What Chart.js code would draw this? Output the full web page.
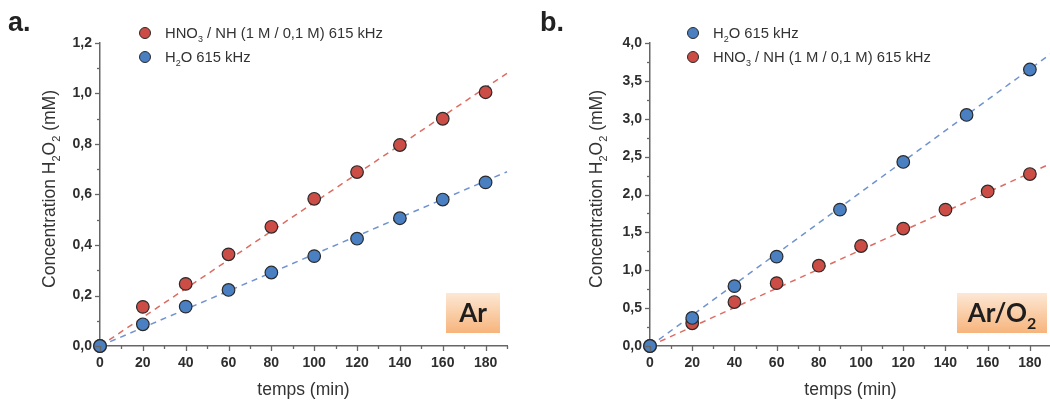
<!DOCTYPE html>
<html>
<head>
<meta charset="utf-8">
<script src="https://cdn.jsdelivr.net/npm/chart.js@4.4.1/dist/chart.umd.min.js"></script>
<style>
  html, body { margin: 0; padding: 0; background: #fff; }
  #wrap { position: relative; width: 1050px; height: 402px; overflow: hidden; }
  .panel { position: absolute; top: 0; height: 402px; }
  #pa { left: 0; width: 525px; }
  #pb { left: 525px; width: 540px; }
</style>
</head>
<body>
<div id="wrap">
  <div class="panel" id="pa"><canvas id="chartA"></canvas></div>
  <div class="panel" id="pb"><canvas id="chartB"></canvas></div>
</div>
<script>
// data - panel a (Ar)
const tempsA = [0, 20, 40, 60, 80, 100, 120, 140, 160, 180];
const hno3A = [0, 0.155, 0.246, 0.363, 0.472, 0.583, 0.689, 0.796, 0.90, 1.005];
const h2oA  = [0, 0.086, 0.156, 0.222, 0.291, 0.356, 0.425, 0.506, 0.58, 0.648];
const fitX = [0, 190];
const fitHno3A = [0, 1.08];
const fitH2oA  = [0, 0.69];

// data - panel b (Ar/O2)
const tempsB_h2o = [0, 20, 40, 60, 90, 120, 150, 180];
const h2oB = [0, 0.37, 0.79, 1.18, 1.80, 2.43, 3.05, 3.65];
const tempsB_hno3 = [0, 20, 40, 60, 80, 100, 120, 140, 160, 180];
const hno3B = [0, 0.30, 0.58, 0.83, 1.06, 1.32, 1.55, 1.80, 2.04, 2.27];
const fitH2oB  = [0, 3.86];
const fitHno3B = [0, 2.41];

// tick labels
const xTickLabels = [0, 20, 40, 60, 80, 100, 120, 140, 160, 180];

const RED = '#cc4d45', BLUE = '#4a7fc1';
const RED_LINE = '#dd6c62', BLUE_LINE = '#7093cf';
const SANS = '"Liberation Sans", Arial, sans-serif';

const pts = (xs, ys) => xs.map((x, i) => ({ x: x, y: ys[i] }));

function pointSet(label, xs, ys, color) {
  return {
    label, data: pts(xs, ys), showLine: false,
    backgroundColor: color, borderColor: '#2a2a2a', borderWidth: 1.2,
    pointRadius: 6.3, pointHoverRadius: 6.3, clip: false, order: 1
  };
}
function fitSet(ys, color) {
  return {
    label: 'fit', data: pts(fitX, ys), showLine: true, pointRadius: 0,
    borderColor: color, borderWidth: 1.5, borderDash: [6, 5], clip: false, order: 5
  };
}

// text with subscripts: segs = [[text, isSub], ...]
function drawSegs(ctx, segs, x, y, size, opts) {
  opts = opts || {};
  const fam = opts.family || SANS;
  const wt = opts.bold ? 'bold ' : '';
  const big = wt + size + 'px ' + fam;
  const small = wt + Math.round(size * 0.62) + 'px ' + fam;
  let w = 0;
  segs.forEach(s => { ctx.font = s[1] ? small : big; w += ctx.measureText(s[0]).width; });
  let cx = opts.center ? x - w / 2 : x;
  ctx.textAlign = 'left';
  ctx.textBaseline = 'alphabetic';
  ctx.fillStyle = opts.color || '#333';
  segs.forEach(s => {
    ctx.font = s[1] ? small : big;
    ctx.fillText(s[0], cx, s[1] ? y + size * 0.28 : y);
    cx += ctx.measureText(s[0]).width;
  });
}

const hno3Label = [['HNO', 0], ['3', 1], [' / NH (1 M / 0,1 M) 615 kHz', 0]];
const h2oLabel = [['H', 0], ['2', 1], ['O 615 kHz', 0]];
const yTitle = [['Concentration H', 0], ['2', 1], ['O', 0], ['2', 1], [' (mM)', 0]];

function makeChart(id, p) {
  const decor = {
    id: 'decor',
    afterDraw(chart) {
      const ctx = chart.ctx, area = chart.chartArea;
      const xs = chart.scales.x, ys = chart.scales.y;
      ctx.save();
      // ticks, major and minor, outward
      ctx.strokeStyle = '#666';
      ctx.lineWidth = 1.3;
      for (let v = 0; v <= p.xMax + 1e-9; v += 10) {
        const px = Math.round(xs.getPixelForValue(v)) + 0.5;
        const len = (v % 20 === 0) ? 5 : 3;
        ctx.beginPath(); ctx.moveTo(px, area.bottom); ctx.lineTo(px, area.bottom + len); ctx.stroke();
      }
      for (let k = 0; k * p.yMinor <= p.yMax + 1e-9; k++) {
        const v = k * p.yMinor;
        const py = Math.round(ys.getPixelForValue(v)) + 0.5;
        const len = (k % 2 === 0) ? 5 : 3;
        ctx.beginPath(); ctx.moveTo(area.left, py); ctx.lineTo(area.left - len, py); ctx.stroke();
      }
      // panel letter
      ctx.fillStyle = '#222';
      ctx.font = 'bold 27px ' + SANS;
      ctx.textAlign = 'left'; ctx.textBaseline = 'alphabetic';
      ctx.fillText(p.letter, p.letterX, 31);
      // legend
      p.legend.forEach((it, i) => {
        const ly = 33 + i * 24;
        ctx.beginPath();
        ctx.arc(p.legX, ly, 5.5, 0, Math.PI * 2);
        ctx.fillStyle = it.color; ctx.fill();
        ctx.lineWidth = 1; ctx.strokeStyle = '#2a2a2a'; ctx.stroke();
        drawSegs(ctx, it.segs, p.legX + 20, ly + 5, 14.8);
      });
      // y title
      ctx.save();
      ctx.translate(p.yTitleX, 189);
      ctx.rotate(-Math.PI / 2);
      drawSegs(ctx, yTitle, 0, 0, 17.5, { center: true });
      ctx.restore();
      // x title
      drawSegs(ctx, [['temps (min)', 0]], (area.left + area.right) / 2, 395, 17.5, { center: true });
      // gas box
      const b = p.box;
      const g = ctx.createLinearGradient(0, b.y, 0, b.y + b.h);
      g.addColorStop(0, '#fde8d4');
      g.addColorStop(1, '#f7b47c');
      ctx.fillStyle = g;
      ctx.fillRect(b.x, b.y, b.w, b.h);
      drawSegs(ctx, p.boxText, b.x + b.w / 2, b.y + b.h / 2 + 9, 26,
        { center: true, bold: true, family: 'Lato, ' + SANS, color: '#1e1e1e' });
      ctx.restore();
    }
  };

  return new Chart(document.getElementById(id), {
    type: 'scatter',
    data: { datasets: p.datasets },
    options: {
      responsive: true,
      maintainAspectRatio: false,
      animation: false,
      layout: { padding: { left: 0, right: p.padRight, top: 43, bottom: 0 } },
      plugins: { legend: { display: false }, tooltip: { enabled: false } },
      scales: {
        x: {
          type: 'linear', min: 0, max: p.xMax,
          grid: { display: false, drawTicks: false },
          border: { display: true, color: '#666', width: 1.5 },
          afterBuildTicks: s => { s.ticks = xTickLabels.map(v => ({ value: v })); },
          ticks: {
            autoSkip: false, padding: 9, color: '#2e2e2e',
            font: { family: SANS, size: 14, weight: 'bold' },
            callback: v => String(v)
          },
          afterFit: s => { s.height = 56; }
        },
        y: {
          type: 'linear', min: 0, max: p.yMax,
          grid: { display: false, drawTicks: false },
          border: { display: true, color: '#666', width: 1.5 },
          ticks: {
            stepSize: p.yMajor, padding: 8, color: '#2e2e2e',
            font: { family: SANS, size: 14, weight: 'bold' },
            callback: v => v.toFixed(1).replace('.', ',')
          },
          afterFit: s => { s.width = p.axisLeft; }
        }
      }
    },
    plugins: [decor]
  });
}

makeChart('chartA', {
  datasets: [
    pointSet('H2O 615 kHz', tempsA, h2oA, BLUE),
    pointSet('HNO3 / NH (1 M / 0,1 M) 615 kHz', tempsA, hno3A, RED),
    fitSet(fitHno3A, RED_LINE),
    fitSet(fitH2oA, BLUE_LINE)
  ],
  xMax: 190, yMax: 1.2, yMajor: 0.2, yMinor: 0.1,
  axisLeft: 100, padRight: 18,
  letter: 'a.', letterX: 8,
  legX: 145,
  legend: [{ color: RED, segs: hno3Label }, { color: BLUE, segs: h2oLabel }],
  yTitleX: 55,
  box: { x: 446, y: 293, w: 54, h: 40 },
  boxText: [['Ar', 0]]
});

makeChart('chartB', {
  datasets: [
    pointSet('H2O 615 kHz', tempsB_h2o, h2oB, BLUE),
    pointSet('HNO3 / NH (1 M / 0,1 M) 615 kHz', tempsB_hno3, hno3B, RED),
    fitSet(fitHno3B, RED_LINE),
    fitSet(fitH2oB, BLUE_LINE)
  ],
  xMax: 190, yMax: 4.0, yMajor: 0.5, yMinor: 0.25,
  axisLeft: 125, padRight: 14,
  letter: 'b.', letterX: 15,
  legX: 168,
  legend: [{ color: BLUE, segs: h2oLabel }, { color: RED, segs: hno3Label }],
  yTitleX: 77,
  box: { x: 432, y: 293, w: 90, h: 40 },
  boxText: [['Ar/O', 0], ['2', 1]]
});
</script>
</body>
</html>
